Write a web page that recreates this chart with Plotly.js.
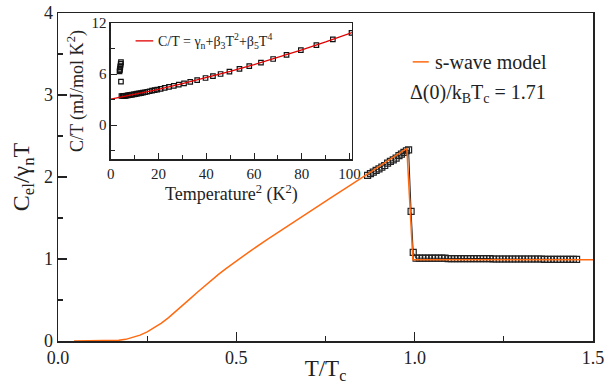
<!DOCTYPE html>
<html><head><meta charset="utf-8">
<script src="https://cdn.plot.ly/plotly-3.0.1.min.js"></script>
<style>html,body{margin:0;padding:0;background:#fff}#plot{width:607px;height:384px}</style>
</head><body><div id="plot"></div>
<script>
// Main panel: s-wave model curve
const modelT = [0.045,0.10,0.15,0.17,0.19,0.21,0.23,0.25,0.27,0.29,0.31,0.33,0.35,0.37,0.39,0.41,0.43,0.45,0.47,0.50,0.54,0.585,0.63,0.68,0.725,0.77,0.82,0.865,0.90,0.93,0.955,0.978,0.995,1.5];
const modelC = [0,0,0.003,0.008,0.02,0.042,0.072,0.112,0.16,0.218,0.285,0.358,0.435,0.513,0.592,0.668,0.742,0.812,0.880,0.978,1.100,1.232,1.363,1.505,1.633,1.76,1.90,2.03,2.13,2.215,2.285,2.35,0.99,0.99];
// Main panel: measured data
const dataT = [0.868,0.876,0.884,0.892,0.900,0.908,0.916,0.924,0.932,0.940,0.948,0.956,0.963,0.970,0.977,0.983,0.990,0.996,
  1.004,1.013,1.022,1.031,1.040,1.049,1.058,1.067,1.076,1.085,1.094,1.103,1.112,1.121,1.130,1.139,1.148,1.157,1.166,1.175,
  1.184,1.193,1.202,1.211,1.220,1.229,1.238,1.247,1.256,1.265,1.274,1.283,1.292,1.301,1.310,1.319,1.328,1.337,1.346,1.355,
  1.364,1.373,1.382,1.391,1.400,1.409,1.418,1.427,1.436,1.445,1.454];
const dataC = [2.02,2.04,2.06,2.08,2.10,2.12,2.14,2.17,2.19,2.21,2.23,2.26,2.28,2.30,2.32,2.33,1.58,1.08,
  1.01,1.01,1.01,1.01,1.01,1.01,1.01,1.01,1.01,1.01,1.005,1.005,1.005,1.005,1.005,1.005,1.005,1.005,1.005,1.005,
  1.005,1.005,1.005,1.005,1.0,1.0,1.0,1.0,1.0,1.0,1.0,1.0,1.0,1.0,1.0,1.0,1.0,1.0,1.0,1.0,
  0.995,0.995,0.995,0.995,0.995,0.995,0.995,0.995,0.995,0.995,0.995];
// Inset: C/T vs T^2
const insX = [3.7,3.8,3.9,4.0,4.1,4.2,4.3,4.3,4.5,5.0,5.5,6.0,6.6,7.2,7.8,8.4,9.0,9.7,10.4,11.1,11.9,12.7,13.5,14.4,15.3,16.3,17.3,18.4,19.5,
  20.9,22.6,24.4,26.4,28.5,30.7,33.3,36.2,39.7,42.8,46.0,49.7,53.9,58.0,62.9,68.0,73.6,79.6,86.1,93.0,100.8];
const insY = [6.3,6.45,6.6,6.8,7.0,7.2,7.4,5.1,3.42,3.42,3.43,3.44,3.46,3.49,3.52,3.55,3.58,3.61,3.65,3.69,3.73,3.77,3.81,3.86,3.92,3.98,4.04,4.11,4.18,
  4.26,4.37,4.49,4.62,4.76,4.90,5.08,5.28,5.53,5.76,6.00,6.28,6.60,6.93,7.33,7.76,8.25,8.79,9.39,10.06,10.83];
const fitX = [0,10,20,30,40,50,60,70,80,90,100,101];
const fitY = [3.05,3.60,4.21,4.86,5.55,6.30,7.09,7.94,8.83,9.76,10.75,10.86];

const SERIF = 'Liberation Serif';
const ORANGE = '#ff6a10';
const AX = '#222';

const traces = [
  {x: dataT, y: dataC, mode: 'lines+markers', xaxis: 'x', yaxis: 'y',
   line: {color: '#222', width: 1},
   marker: {symbol: 'square-open', size: 6, color: '#222', line: {width: 1.2}}, showlegend: false},
  {x: modelT, y: modelC, mode: 'lines', xaxis: 'x', yaxis: 'y', line: {color: ORANGE, width: 1.5}, showlegend: false},
  {x: insX, y: insY, mode: 'markers', xaxis: 'x2', yaxis: 'y2',
   marker: {symbol: 'square-open', size: 4.5, color: '#111', line: {width: 1.2}}, showlegend: false},
  {x: fitX, y: fitY, mode: 'lines', xaxis: 'x2', yaxis: 'y2', line: {color: '#e00000', width: 1.3}, showlegend: false}
];

const layout = {
  width: 607, height: 384,
  margin: {l: 58, r: 14, t: 13, b: 43},
  paper_bgcolor: '#fff', plot_bgcolor: 'rgba(0,0,0,0)',
  font: {family: SERIF, color: '#222'},
  showlegend: false,
  xaxis: {range: [0, 1.5], domain: [0, 1], anchor: 'y', tickvals: [0, 0.5, 1.0, 1.5], ticktext: ['0.0','0.5','1.0','1.5'],
    ticks: 'inside', ticklen: 9, tickwidth: 1.2, tickcolor: AX,
    minor: {tickvals: [0.25, 0.75, 1.25], ticks: 'inside', ticklen: 5, tickcolor: AX, tickwidth: 1.2},
    showline: true, linecolor: AX, linewidth: 1.5, mirror: true, showgrid: false, zeroline: false,
    tickfont: {family: SERIF, size: 18, color: '#222'},
    title: {text: 'T/T<sub>c</sub>', font: {family: SERIF, size: 23, color: '#222'}, standoff: 1}},
  yaxis: {range: [0, 4], domain: [0, 1], anchor: 'x', tickvals: [0,1,2,3,4],
    ticks: 'inside', ticklen: 9, tickwidth: 1.2, tickcolor: AX,
    minor: {tickvals: [0.5,1.5,2.5,3.5], ticks: 'inside', ticklen: 5, tickcolor: AX, tickwidth: 1.2},
    showline: true, linecolor: AX, linewidth: 1.5, mirror: true, showgrid: false, zeroline: false,
    tickfont: {family: SERIF, size: 18, color: '#222'},
    title: {text: 'C<sub>el</sub>/γ<sub>n</sub>T', font: {family: SERIF, size: 24, color: '#222'}, standoff: 7}},
  xaxis2: {range: [0, 101], domain: [0.0985, 0.5495], anchor: 'y2', tickvals: [0,20,40,60,80,100],
    ticks: 'inside', ticklen: 6, tickwidth: 1, tickcolor: AX,
    minor: {tickvals: [10,30,50,70,90], ticks: 'inside', ticklen: 4, tickcolor: AX, tickwidth: 1},
    showline: true, linecolor: AX, linewidth: 1.3, mirror: true, showgrid: false, zeroline: false,
    tickfont: {family: SERIF, size: 15, color: '#222'},
    title: {text: 'Temperature<sup>2</sup> (K<sup>2</sup>)', font: {family: SERIF, size: 18, color: '#222'}, standoff: 1}},
  yaxis2: {range: [-4, 12], domain: [0.554, 0.970], anchor: 'x2', tickvals: [0,6,12],
    ticks: 'inside', ticklen: 6, tickwidth: 1, tickcolor: AX,
    minor: {tickvals: [-3,3,9], ticks: 'inside', ticklen: 4, tickcolor: AX, tickwidth: 1},
    showline: true, linecolor: AX, linewidth: 1.3, mirror: true, showgrid: false, zeroline: false,
    tickfont: {family: SERIF, size: 15, color: '#222'},
    title: {text: 'C/T (mJ/mol K<sup>2</sup>)', font: {family: SERIF, size: 18, color: '#222'}, standoff: 3}},
  shapes: [
    {type: 'line', xref: 'paper', yref: 'paper', x0: 0.663, x1: 0.693, y0: 0.851, y1: 0.851, line: {color: ORANGE, width: 1.5}},
    {type: 'line', xref: 'paper', yref: 'paper', x0: 0.145, x1: 0.178, y0: 0.915, y1: 0.915, line: {color: '#e00000', width: 1.3}}
  ],
  annotations: [
    {xref: 'paper', yref: 'paper', x: 0.70, y: 0.851, xanchor: 'left', yanchor: 'middle', showarrow: false,
     text: 's-wave model', font: {family: SERIF, size: 20, color: '#222'}},
    {xref: 'paper', yref: 'paper', x: 0.655, y: 0.756, xanchor: 'left', yanchor: 'middle', showarrow: false,
     text: 'Δ(0)/k<sub>B</sub>T<sub>c</sub> = 1.71', font: {family: SERIF, size: 20, color: '#222'}},
    {xref: 'paper', yref: 'paper', x: 0.183, y: 0.915, xanchor: 'left', yanchor: 'middle', showarrow: false,
     text: 'C/T = γ<sub>n</sub>+β<sub>3</sub>T<sup>2</sup>+β<sub>5</sub>T<sup>4</sup>', font: {family: SERIF, size: 14, color: '#222'}}
  ]
};
Plotly.newPlot('plot', traces, layout, {displayModeBar: false, staticPlot: true});
</script></body></html>
